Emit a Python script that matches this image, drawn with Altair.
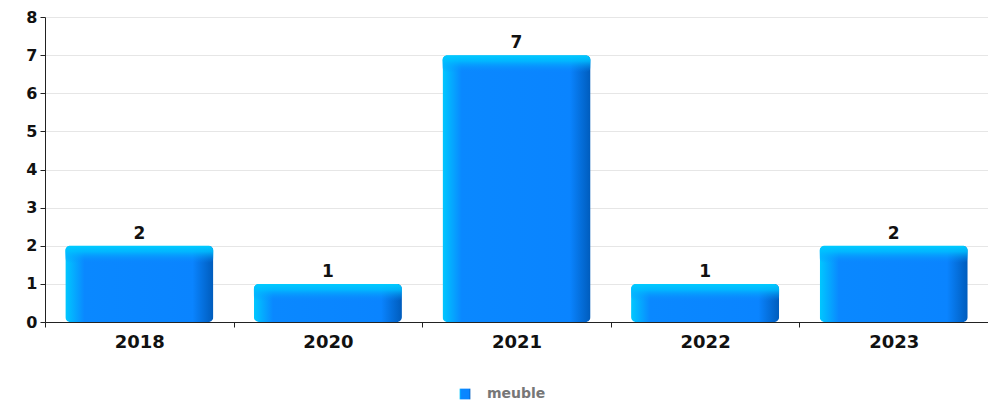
import altair as alt
import pandas as pd

years = ["2018", "2020", "2021", "2022", "2023"]
counts = [2, 1, 7, 1, 2]
series = ["meuble"] * 5

df = pd.DataFrame({"year": years, "count": counts, "series": series})
df["top"] = df["count"] - 0.45

font = "DejaVu Sans"

side_grad = alt.Gradient(
    gradient="linear", x1=0, y1=0, x2=1, y2=0,
    stops=[
        alt.GradientStop(offset=0, color="#00c8ff"),
        alt.GradientStop(offset=0.13, color="#0a88ff"),
        alt.GradientStop(offset=0.86, color="#0a84ff"),
        alt.GradientStop(offset=1, color="#005cbc"),
    ],
)
top_grad = alt.Gradient(
    gradient="linear", x1=0, y1=0, x2=0, y2=1,
    stops=[
        alt.GradientStop(offset=0, color="rgba(0,204,255,1)"),
        alt.GradientStop(offset=0.35, color="rgba(0,190,255,0.85)"),
        alt.GradientStop(offset=1, color="rgba(10,140,255,0)"),
    ],
)

x_axis = alt.Axis(labelAngle=0, labelFont=font, labelFontWeight="bold",
                  labelFontSize=18, labelColor="#111", labelPadding=6,
                  domainColor="#222", tickColor="#222", tickBand="extent",
                  tickSize=5, grid=False)
x_scale = alt.Scale(paddingInner=0, paddingOuter=0)
y_axis = alt.Axis(values=list(range(9)), labelFont=font, labelFontWeight="bold",
                  labelFontSize=16, labelColor="#111", domainColor="#222",
                  tickColor="#222", tickSize=5, labelPadding=3,
                  gridColor="#e6e6e6")
y_scale = alt.Scale(domain=[0, 8], nice=False)

def X():
    return alt.X("year:N", sort=years, title=None, scale=x_scale, axis=x_axis)

def Y():
    return alt.Y("count:Q", title=None, scale=y_scale, axis=y_axis)

base = alt.Chart(df)
bw = alt.RelativeBandSize(0.785)

bars = base.mark_bar(cornerRadius=5, color=side_grad, width=bw).encode(
    x=X(), y=Y(),
    opacity=alt.Opacity("series:N", legend=alt.Legend(
        title=None, orient="none", legendX=413, legendY=370,
        symbolType="square", symbolFillColor="#0a84ff", symbolStrokeWidth=0,
        symbolSize=115, symbolOpacity=1, labelFont=font, labelFontWeight="bold",
        labelFontSize=14, labelColor="#777", labelOffset=15),
        scale=alt.Scale(range=[1])),
)

tops = base.mark_bar(cornerRadius=5, color=top_grad, width=bw).encode(
    x=X(), y=Y(), y2="top:Q"
)

labels = base.mark_text(dy=-3, baseline="bottom", font=font, fontWeight="bold",
                        fontSize=17, color="#111").encode(
    x=X(), y=Y(), text="count:Q"
)

chart = (bars + tops + labels).properties(
    width=943, height=305,
    autosize=alt.AutoSizeParams(type="none"),
    padding={"left": 37, "top": 9, "right": 0, "bottom": 78},
).configure_view(stroke=None)

chart.save("out.html", embed_options={"renderer": "svg", "actions": False})
